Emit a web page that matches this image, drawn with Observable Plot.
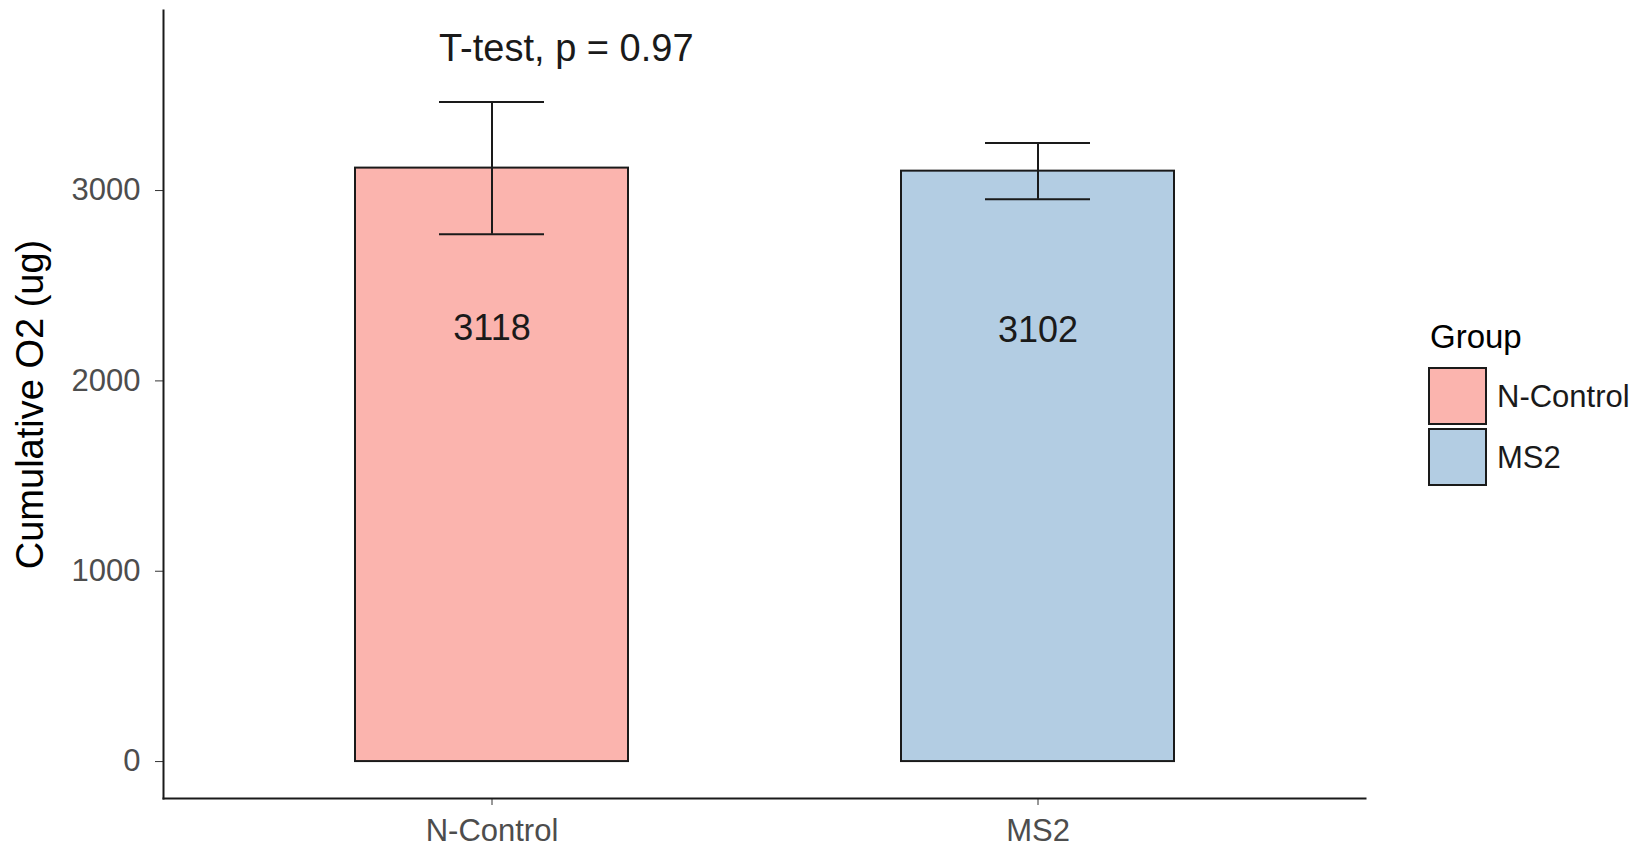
<!DOCTYPE html>
<html>
<head>
<meta charset="utf-8">
<script src="https://cdn.jsdelivr.net/npm/d3@7"></script>
<script src="https://cdn.jsdelivr.net/npm/@observablehq/plot@0.6"></script>
<style>
  html, body { margin: 0; padding: 0; background: #fff; overflow: hidden; }
  #wrap { position: relative; width: 1646px; height: 847px; }
  #legend { position: absolute; left: 1400px; top: 300px; }
</style>
</head>
<body>
<div id="wrap"></div>
<script>
// ---- data ----
const groups = ["N-Control", "MS2"];
const means = [3118, 3102];
const sds = [347, 148];
const colors = ["#FBB4AE", "#B3CDE3"];
const yTicks = [0, 1000, 2000, 3000];
const testLabel = "T-test, p = 0.97";
const yTitle = "Cumulative O2 (ug)";
const legendTitle = "Group";

const data = groups.map((g, i) => ({group: g, mean: means[i], sd: sds[i]}));
const annY = d3.max(data, d => d.mean + d.sd) * 1.08;
const font = "'Liberation Sans', Arial, Helvetica, sans-serif";

const plot = Plot.plot({
  width: 1646,
  height: 847,
  marginLeft: 163,
  marginRight: 281,
  marginTop: 10,
  marginBottom: 49,
  style: {fontFamily: font, background: "#fff"},
  x: {domain: groups, paddingInner: 0.5, paddingOuter: 0.35, label: null},
  y: {domain: [-194, 3946], label: null},
  color: {domain: groups, range: colors},
  marks: [
    Plot.barY(data, {x: "group", y: "mean", fill: "group", stroke: "#1a1a1a", strokeWidth: 2}),
    Plot.ruleX(data, {x: "group", y1: d => d.mean - d.sd, y2: d => d.mean + d.sd, stroke: "#1a1a1a", strokeWidth: 2}),
    Plot.tickY(data, {x: "group", y: d => d.mean + d.sd, insetLeft: 84, insetRight: 84, stroke: "#1a1a1a", strokeWidth: 2}),
    Plot.tickY(data, {x: "group", y: d => d.mean - d.sd, insetLeft: 84, insetRight: 84, stroke: "#1a1a1a", strokeWidth: 2}),
    Plot.text(data, {x: "group", y: d => d.mean * 0.73, text: d => String(d.mean), fontSize: 36, fill: "#1a1a1a"}),
    Plot.text([{group: groups[0], label: testLabel}], {x: "group", y: () => annY, text: "label", textAnchor: "start", dx: -53, fontSize: 38, fill: "#1a1a1a"}),
    Plot.text([yTitle], {frameAnchor: "left", textAnchor: "middle", lineAnchor: "middle", rotate: -90, dx: -133, fontSize: 38, fill: "#000"}),
    Plot.axisY({ticks: yTicks, tickFormat: "d", tickSize: 8, tickPadding: 15, fontSize: 31, fill: "#4d4d4d", stroke: "#333", label: null}),
    Plot.axisX({tickSize: 7, tickPadding: 13, fontSize: 31, fill: "#4d4d4d", stroke: "#333", label: null}),
    Plot.frame({anchor: "left", stroke: "#1a1a1a", strokeWidth: 2}),
    Plot.frame({anchor: "bottom", stroke: "#1a1a1a", strokeWidth: 2})
  ]
});

const wrap = document.getElementById("wrap");
wrap.appendChild(plot);

// ---- legend (right side, like ggplot) ----
const colorScale = plot.scale("color");
const lg = d3.select(wrap).append("svg")
  .attr("id", "legend")
  .attr("width", 246).attr("height", 220)
  .style("font-family", font);
const ox = 1400, oy = 300;
lg.append("text").attr("x", 1430 - ox).attr("y", 348 - oy)
  .attr("font-size", 33).attr("fill", "#000").text(legendTitle);
colorScale.domain.forEach((g, i) => {
  const top = 368 - oy + i * 61;
  lg.append("rect").attr("x", 1429 - ox).attr("y", top).attr("width", 57).attr("height", 56)
    .attr("fill", colorScale.range[i]).attr("stroke", "#1a1a1a").attr("stroke-width", 2);
  lg.append("text").attr("x", 1497 - ox).attr("y", top + 28).attr("dy", "0.35em")
    .attr("font-size", 31).attr("fill", "#1a1a1a").text(g);
});
</script>
</body>
</html>
